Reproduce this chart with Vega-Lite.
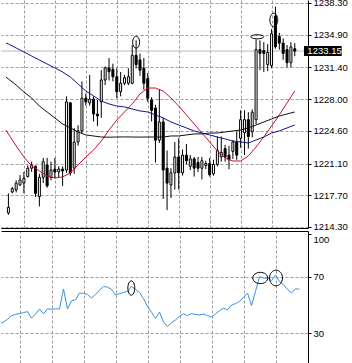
{
  "$schema": "https://vega.github.io/schema/vega-lite/v6.json",
  "padding": {"left": 0, "right": 0, "top": -3, "bottom": 0},
  "background": "white",
  "spacing": 3,
  "bounds": "flush",
  "config": {
    "view": {"stroke": null},
    "axis": {
      "labelFont": "Liberation Sans",
      "labelFontSize": 9.5,
      "labelColor": "black",
      "labelOverlap": false,
      "domainColor": "black",
      "domainWidth": 1,
      "tickColor": "black",
      "tickSize": 3,
      "labelPadding": 2,
      "gridColor": "#9c9c9c",
      "gridDash": [3, 2],
      "gridWidth": 1
    }
  },
  "datasets": {
    "last": [{"price": 1233.15}],
    "candles": [
      {"i": 0, "open": 1215.8, "high": 1217.9, "low": 1215.6, "close": 1216.4},
      {"i": 1, "open": 1218.05, "high": 1218.6, "low": 1217.9, "close": 1218.4},
      {"i": 2, "open": 1218.26, "high": 1219.3, "low": 1218.0, "close": 1219.0},
      {"i": 3, "open": 1218.8, "high": 1219.87, "low": 1218.7, "close": 1219.33},
      {"i": 4, "open": 1219.0, "high": 1220.2, "low": 1217.9, "close": 1219.5},
      {"i": 5, "open": 1219.7, "high": 1220.9, "low": 1219.6, "close": 1220.6},
      {"i": 6, "open": 1220.6, "high": 1221.3, "low": 1220.2, "close": 1220.9},
      {"i": 7, "open": 1220.8, "high": 1220.9, "low": 1217.5, "close": 1217.9},
      {"i": 8, "open": 1217.55, "high": 1220.0, "low": 1216.5, "close": 1219.62},
      {"i": 9, "open": 1219.62, "high": 1221.7, "low": 1219.0, "close": 1221.3},
      {"i": 10, "open": 1220.94, "high": 1221.7, "low": 1218.5, "close": 1218.7},
      {"i": 11, "open": 1219.6, "high": 1221.3, "low": 1219.3, "close": 1220.4},
      {"i": 12, "open": 1220.5, "high": 1221.7, "low": 1219.5, "close": 1220.2},
      {"i": 13, "open": 1220.2, "high": 1220.8, "low": 1219.6, "close": 1220.5},
      {"i": 14, "open": 1220.5, "high": 1220.8, "low": 1218.7, "close": 1220.3},
      {"i": 15, "open": 1220.4, "high": 1228.3, "low": 1220.1, "close": 1227.7},
      {"i": 16, "open": 1227.6, "high": 1227.7, "low": 1219.8, "close": 1220.1},
      {"i": 17, "open": 1220.6, "high": 1224.9, "low": 1220.0, "close": 1223.4},
      {"i": 18, "open": 1223.4, "high": 1225.2, "low": 1223.0, "close": 1224.6},
      {"i": 19, "open": 1224.6, "high": 1229.9, "low": 1224.3, "close": 1228.1},
      {"i": 20, "open": 1228.1, "high": 1228.6, "low": 1227.3, "close": 1227.7},
      {"i": 21, "open": 1227.6, "high": 1230.6, "low": 1227.3, "close": 1228.0},
      {"i": 22, "open": 1228.0, "high": 1228.3, "low": 1225.6, "close": 1226.4},
      {"i": 23, "open": 1226.4, "high": 1227.9, "low": 1225.1, "close": 1226.2},
      {"i": 24, "open": 1227.7, "high": 1231.1, "low": 1226.0, "close": 1230.05},
      {"i": 25, "open": 1230.05, "high": 1231.5, "low": 1229.5, "close": 1231.34},
      {"i": 26, "open": 1231.34, "high": 1232.4, "low": 1230.0, "close": 1230.94},
      {"i": 27, "open": 1231.2, "high": 1231.8, "low": 1229.9, "close": 1230.4},
      {"i": 28, "open": 1230.4, "high": 1231.3, "low": 1228.1, "close": 1228.8},
      {"i": 29, "open": 1228.8, "high": 1230.9, "low": 1228.3, "close": 1229.7},
      {"i": 30, "open": 1229.7, "high": 1230.6, "low": 1229.5, "close": 1230.3},
      {"i": 31, "open": 1229.7, "high": 1231.3, "low": 1229.5, "close": 1230.4},
      {"i": 32, "open": 1229.7, "high": 1233.8, "low": 1229.6, "close": 1232.7},
      {"i": 33, "open": 1232.7, "high": 1234.3, "low": 1231.3, "close": 1231.7},
      {"i": 34, "open": 1232.2, "high": 1232.9, "low": 1230.5, "close": 1231.1},
      {"i": 35, "open": 1231.3, "high": 1232.4, "low": 1229.0, "close": 1229.7},
      {"i": 36, "open": 1230.2, "high": 1230.8, "low": 1227.7, "close": 1228.1},
      {"i": 37, "open": 1227.9, "high": 1228.2, "low": 1225.6, "close": 1226.8},
      {"i": 38, "open": 1227.05, "high": 1227.4, "low": 1221.2, "close": 1223.6},
      {"i": 39, "open": 1223.6, "high": 1229.0, "low": 1223.3, "close": 1225.55},
      {"i": 40, "open": 1225.55, "high": 1226.0, "low": 1217.3, "close": 1220.4},
      {"i": 41, "open": 1220.6, "high": 1222.5, "low": 1216.1, "close": 1219.0},
      {"i": 42, "open": 1218.8, "high": 1220.6, "low": 1217.4, "close": 1220.1},
      {"i": 43, "open": 1220.1, "high": 1223.4, "low": 1218.3, "close": 1221.8},
      {"i": 44, "open": 1221.8, "high": 1223.8, "low": 1218.3, "close": 1220.1},
      {"i": 45, "open": 1220.1, "high": 1222.6, "low": 1219.8, "close": 1222.0},
      {"i": 46, "open": 1222.0, "high": 1223.2, "low": 1221.0, "close": 1221.4},
      {"i": 47, "open": 1220.8, "high": 1222.0, "low": 1220.4, "close": 1221.6},
      {"i": 48, "open": 1221.6, "high": 1221.8, "low": 1219.7, "close": 1220.6},
      {"i": 49, "open": 1221.2, "high": 1221.8, "low": 1220.2, "close": 1220.6},
      {"i": 50, "open": 1220.6, "high": 1221.8, "low": 1219.4, "close": 1221.4},
      {"i": 51, "open": 1220.9, "high": 1221.4, "low": 1220.5, "close": 1221.1},
      {"i": 52, "open": 1221.1, "high": 1221.7, "low": 1219.7, "close": 1219.9},
      {"i": 53, "open": 1220.0, "high": 1221.5, "low": 1219.8, "close": 1221.0},
      {"i": 54, "open": 1221.0, "high": 1224.0, "low": 1220.8, "close": 1222.5},
      {"i": 55, "open": 1221.8, "high": 1224.0, "low": 1221.3, "close": 1222.3},
      {"i": 56, "open": 1222.7, "high": 1223.1, "low": 1221.3, "close": 1221.8},
      {"i": 57, "open": 1222.0, "high": 1223.0, "low": 1220.5, "close": 1221.5},
      {"i": 58, "open": 1222.4, "high": 1223.6, "low": 1221.6, "close": 1223.4},
      {"i": 59, "open": 1223.4, "high": 1224.5, "low": 1221.5, "close": 1222.0},
      {"i": 60, "open": 1223.8, "high": 1226.8, "low": 1222.8, "close": 1225.8},
      {"i": 61, "open": 1224.4, "high": 1226.8, "low": 1222.0, "close": 1225.8},
      {"i": 62, "open": 1225.8, "high": 1226.6, "low": 1222.7, "close": 1224.0},
      {"i": 63, "open": 1224.5, "high": 1226.9, "low": 1223.9, "close": 1226.6},
      {"i": 64, "open": 1225.8, "high": 1234.4, "low": 1225.3, "close": 1233.3},
      {"i": 65, "open": 1233.3, "high": 1234.3, "low": 1231.1, "close": 1232.9},
      {"i": 66, "open": 1233.2, "high": 1234.1, "low": 1230.9, "close": 1232.9},
      {"i": 67, "open": 1231.7, "high": 1233.9, "low": 1231.0, "close": 1233.0},
      {"i": 68, "open": 1231.6, "high": 1235.5, "low": 1231.3, "close": 1235.0},
      {"i": 69, "open": 1236.9, "high": 1237.9, "low": 1233.4, "close": 1233.6},
      {"i": 70, "open": 1234.7, "high": 1235.1, "low": 1233.3, "close": 1234.0},
      {"i": 71, "open": 1234.0, "high": 1234.5, "low": 1232.2, "close": 1232.9},
      {"i": 72, "open": 1233.3, "high": 1233.8, "low": 1231.4, "close": 1231.9},
      {"i": 73, "open": 1231.9, "high": 1234.1, "low": 1231.4, "close": 1233.6},
      {"i": 74, "open": 1233.4, "high": 1234.0, "low": 1232.6, "close": 1233.15}
    ],
    "ma": [
      {"i": -0.625, "red": 1224.69, "blue": 1234.01, "black": 1230.37},
      {"i": 0, "red": 1224.26, "blue": 1233.91, "black": 1230.16},
      {"i": 2, "red": 1222.98, "blue": 1233.48, "black": 1229.51},
      {"i": 4, "red": 1221.8, "blue": 1233.05, "black": 1228.76},
      {"i": 6, "red": 1220.84, "blue": 1232.62, "black": 1228.12},
      {"i": 8, "red": 1220.3, "blue": 1232.19, "black": 1227.26},
      {"i": 10, "red": 1219.76, "blue": 1231.76, "black": 1226.62},
      {"i": 12, "red": 1219.55, "blue": 1231.34, "black": 1225.98},
      {"i": 14, "red": 1219.66, "blue": 1230.91, "black": 1225.34},
      {"i": 16, "red": 1220.09, "blue": 1230.37, "black": 1224.91},
      {"i": 18, "red": 1220.94, "blue": 1229.62, "black": 1224.48},
      {"i": 20, "red": 1221.8, "blue": 1228.87, "black": 1224.16},
      {"i": 22, "red": 1222.55, "blue": 1228.34, "black": 1224.05},
      {"i": 24, "red": 1223.51, "blue": 1227.8, "black": 1223.94},
      {"i": 26, "red": 1224.69, "blue": 1227.48, "black": 1223.92},
      {"i": 28, "red": 1225.76, "blue": 1227.26, "black": 1223.94},
      {"i": 30, "red": 1226.62, "blue": 1227.16, "black": 1223.95},
      {"i": 32, "red": 1227.48, "blue": 1226.94, "black": 1223.94},
      {"i": 34, "red": 1228.55, "blue": 1226.73, "black": 1223.93},
      {"i": 36, "red": 1229.19, "blue": 1226.62, "black": 1223.94},
      {"i": 38, "red": 1229.19, "blue": 1226.3, "black": 1223.94},
      {"i": 40, "red": 1228.87, "blue": 1225.98, "black": 1223.94},
      {"i": 42, "red": 1228.12, "blue": 1225.55, "black": 1224.05},
      {"i": 44, "red": 1227.26, "blue": 1225.23, "black": 1224.05},
      {"i": 46, "red": 1226.3, "blue": 1224.91, "black": 1224.16},
      {"i": 48, "red": 1225.34, "blue": 1224.59, "black": 1224.27},
      {"i": 50, "red": 1224.37, "blue": 1224.37, "black": 1224.27},
      {"i": 52, "red": 1223.41, "blue": 1224.16, "black": 1224.37},
      {"i": 54, "red": 1222.44, "blue": 1223.94, "black": 1224.37},
      {"i": 56, "red": 1221.69, "blue": 1223.73, "black": 1224.48},
      {"i": 58, "red": 1221.37, "blue": 1223.51, "black": 1224.59},
      {"i": 60, "red": 1221.37, "blue": 1223.41, "black": 1224.69},
      {"i": 62, "red": 1221.91, "blue": 1223.3, "black": 1224.91},
      {"i": 64, "red": 1222.87, "blue": 1223.62, "black": 1225.23},
      {"i": 66, "red": 1223.94, "blue": 1223.94, "black": 1225.55},
      {"i": 68, "red": 1225.12, "blue": 1224.37, "black": 1225.87},
      {"i": 70, "red": 1226.3, "blue": 1224.59, "black": 1226.19},
      {"i": 72, "red": 1227.59, "blue": 1224.91, "black": 1226.41},
      {"i": 74, "red": 1228.87, "blue": 1225.23, "black": 1226.62}
    ],
    "rsi": [
      {"i": -0.625, "rsi": 37.2},
      {"i": 0, "rsi": 37.9}, {"i": 1, "rsi": 40.0}, {"i": 2, "rsi": 42.5}, {"i": 3, "rsi": 43.4},
      {"i": 4, "rsi": 44.0}, {"i": 5, "rsi": 44.6}, {"i": 6, "rsi": 45.4}, {"i": 7, "rsi": 40.8},
      {"i": 8, "rsi": 43.5}, {"i": 9, "rsi": 47.2}, {"i": 10, "rsi": 43.8}, {"i": 11, "rsi": 47.3},
      {"i": 12, "rsi": 47.0}, {"i": 13, "rsi": 47.3}, {"i": 14, "rsi": 47.3}, {"i": 15, "rsi": 61.3},
      {"i": 16, "rsi": 47.3}, {"i": 17, "rsi": 53.0}, {"i": 18, "rsi": 53.7}, {"i": 19, "rsi": 58.5},
      {"i": 20, "rsi": 58.2}, {"i": 21, "rsi": 57.5}, {"i": 22, "rsi": 55.0}, {"i": 23, "rsi": 57.5},
      {"i": 24, "rsi": 60.5}, {"i": 25, "rsi": 63.1}, {"i": 26, "rsi": 62.6}, {"i": 27, "rsi": 61.0},
      {"i": 28, "rsi": 57.0}, {"i": 29, "rsi": 58.0}, {"i": 30, "rsi": 59.0}, {"i": 31, "rsi": 59.6},
      {"i": 32, "rsi": 63.1}, {"i": 33, "rsi": 61.0}, {"i": 34, "rsi": 59.0}, {"i": 35, "rsi": 54.5},
      {"i": 36, "rsi": 49.0}, {"i": 37, "rsi": 45.0}, {"i": 38, "rsi": 40.5}, {"i": 39, "rsi": 45.0},
      {"i": 40, "rsi": 38.0}, {"i": 41, "rsi": 34.8}, {"i": 42, "rsi": 37.5}, {"i": 43, "rsi": 39.5},
      {"i": 44, "rsi": 42.0}, {"i": 45, "rsi": 43.8}, {"i": 46, "rsi": 42.6}, {"i": 47, "rsi": 44.0},
      {"i": 48, "rsi": 43.3}, {"i": 49, "rsi": 43.0}, {"i": 50, "rsi": 43.6}, {"i": 51, "rsi": 42.5},
      {"i": 52, "rsi": 41.5}, {"i": 53, "rsi": 43.8}, {"i": 54, "rsi": 46.0}, {"i": 55, "rsi": 47.8},
      {"i": 56, "rsi": 46.6}, {"i": 57, "rsi": 50.0}, {"i": 58, "rsi": 51.0}, {"i": 59, "rsi": 52.5},
      {"i": 60, "rsi": 55.5}, {"i": 61, "rsi": 58.5}, {"i": 62, "rsi": 49.7}, {"i": 63, "rsi": 59.6},
      {"i": 64, "rsi": 70.0}, {"i": 65, "rsi": 69.1}, {"i": 66, "rsi": 69.1}, {"i": 67, "rsi": 67.2},
      {"i": 68, "rsi": 71.2}, {"i": 69, "rsi": 66.5}, {"i": 70, "rsi": 64.3}, {"i": 71, "rsi": 61.0},
      {"i": 72, "rsi": 58.5}, {"i": 73, "rsi": 61.5}, {"i": 74, "rsi": 61.1}
    ],
    "ell_up": [
      {"id": "a", "i": 33.0, "p": 1234.09},
      {"id": "b", "i": 64.33, "p": 1234.68},
      {"id": "c", "i": 68.58, "p": 1236.48}
    ],
    "ell_lo": [
      {"id": "d", "i": 31.95, "v": 62.0},
      {"id": "e", "i": 64.2, "v": 69.1},
      {"id": "f", "i": 68.13, "v": 69.1}
    ]
  },
  "vconcat": [
    {
      "width": 307,
      "height": 228,
      "layer": [
        {
          "data": {"name": "last"},
          "mark": {"type": "rule", "color": "#b8b8b8", "strokeWidth": 1},
          "encoding": {
            "y": {
              "field": "price", "type": "quantitative", "title": null,
              "scale": {"domain": [1214.19, 1238.62], "zero": false, "nice": false},
              "axis": {
                "orient": "right", "title": null, "format": ".2f", "tickCount": 40,
                "values": [1214.3, 1217.7, 1221.1, 1224.6, 1228.0, 1231.4, 1234.9, 1238.3],
                "grid": true, "domain": true, "ticks": true, "labelOverlap": false, "labelBound": false
              }
            }
          }
        },
        {
          "data": {"name": "candles"},
          "mark": {"type": "rule", "color": "black", "strokeWidth": 1},
          "encoding": {
            "x": {
              "field": "i", "type": "quantitative", "title": null,
              "scale": {"domain": [-0.625, 76.125], "zero": false, "nice": false},
              "axis": {
                "orient": "bottom", "title": null, "values": [4, 12, 20, 28, 36, 44, 52, 60, 68], "tickCount": 40,
                "grid": true, "labels": false, "ticks": false, "domain": true
              }
            },
            "y": {"field": "low", "type": "quantitative", "title": null},
            "y2": {"field": "high"}
          }
        },
        {
          "data": {"name": "candles"},
          "mark": {"type": "bar", "width": 2, "stroke": "black", "strokeWidth": 1},
          "encoding": {
            "x": {"field": "i", "type": "quantitative", "title": null},
            "y": {"field": "open", "type": "quantitative", "title": null},
            "y2": {"field": "close"},
            "fill": {"condition": {"test": "datum.close >= datum.open", "value": "white"}, "value": "black"}
          }
        },
        {
          "data": {"name": "ma"},
          "mark": {"type": "line", "color": "#c8102e", "strokeWidth": 1, "clip": true},
          "encoding": {
            "x": {"field": "i", "type": "quantitative", "title": null},
            "y": {"field": "red", "type": "quantitative", "title": null}
          }
        },
        {
          "data": {"name": "ma"},
          "mark": {"type": "line", "color": "#14148c", "strokeWidth": 1, "clip": true},
          "encoding": {
            "x": {"field": "i", "type": "quantitative", "title": null},
            "y": {"field": "blue", "type": "quantitative", "title": null}
          }
        },
        {
          "data": {"name": "ma"},
          "mark": {"type": "line", "color": "#111111", "strokeWidth": 1, "clip": true},
          "encoding": {
            "x": {"field": "i", "type": "quantitative", "title": null},
            "y": {"field": "black", "type": "quantitative", "title": null}
          }
        },
        {
          "data": {"name": "ell_up"},
          "mark": {"type": "point", "filled": false, "stroke": "black", "strokeWidth": 1, "opacity": 1},
          "encoding": {
            "x": {"field": "i", "type": "quantitative", "title": null},
            "y": {"field": "p", "type": "quantitative", "title": null},
            "shape": {
              "field": "id", "type": "nominal", "legend": null,
              "scale": {
                "domain": ["a", "b", "c", "d", "e", "f"],
                "range": [
                  "M 0.58 0 C 0.58 0.552 0.32 1 0 1 C -0.32 1 -0.58 0.552 -0.58 0 C -0.58 -0.552 -0.32 -1 0 -1 C 0.32 -1 0.58 -0.552 0.58 0 Z",
                  "M 1 0 C 1 0.177 0.552 0.32 0 0.32 C -0.552 0.32 -1 0.177 -1 0 C -1 -0.177 -0.552 -0.32 0 -0.32 C 0.552 -0.32 1 -0.177 1 0 Z",
                  "M 0.58 0 C 0.58 0.552 0.32 1 0 1 C -0.32 1 -0.58 0.552 -0.58 0 C -0.58 -0.552 -0.32 -1 0 -1 C 0.32 -1 0.58 -0.552 0.58 0 Z",
                  "M 0.48 0 C 0.48 0.552 0.265 1 0 1 C -0.265 1 -0.48 0.552 -0.48 0 C -0.48 -0.552 -0.265 -1 0 -1 C 0.265 -1 0.48 -0.552 0.48 0 Z",
                  "M 1 0 C 1 0.414 0.552 0.75 0 0.75 C -0.552 0.75 -1 0.414 -1 0 C -1 -0.414 -0.552 -0.75 0 -0.75 C 0.552 -0.75 1 -0.414 1 0 Z",
                  "M 0.83 0 C 0.83 0.552 0.458 1 0 1 C -0.458 1 -0.83 0.552 -0.83 0 C -0.83 -0.552 -0.458 -1 0 -1 C 0.458 -1 0.83 -0.552 0.83 0 Z"
                ]
              }
            },
            "size": {
              "field": "id", "type": "ordinal", "legend": null,
              "scale": {"domain": ["a", "b", "c", "d", "e", "f"], "range": [144, 246, 400, 234, 177, 144]}
            }
          }
        },
        {
          "data": {"name": "last"},
          "mark": {"type": "rect", "color": "black"},
          "encoding": {
            "x": {"datum": 76.375, "type": "quantitative"},
            "x2": {"datum": 86.125},
            "y": {"datum": 1233.69, "type": "quantitative"},
            "y2": {"datum": 1232.62}
          }
        },
        {
          "data": {"name": "last"},
          "mark": {"type": "text", "align": "left", "baseline": "middle", "color": "white", "font": "Liberation Sans", "fontSize": 9.5},
          "encoding": {
            "x": {"datum": 77.25, "type": "quantitative"},
            "y": {"field": "price", "type": "quantitative", "title": null},
            "text": {"field": "price", "type": "quantitative", "format": ".2f"}
          }
        }
      ]
    },
    {
      "width": 307,
      "height": 132,
      "layer": [
        {
          "data": {"name": "rsi"},
          "mark": {"type": "line", "color": "#3d8fd9", "strokeWidth": 1, "clip": true},
          "encoding": {
            "x": {
              "field": "i", "type": "quantitative", "title": null,
              "scale": {"domain": [-0.625, 76.125], "zero": false, "nice": false},
              "axis": {
                "orient": "top", "title": null, "values": [4, 12, 20, 28, 36, 44, 52, 60, 68], "tickCount": 40,
                "grid": true, "labels": false, "ticks": false, "domain": true
              }
            },
            "y": {
              "field": "rsi", "type": "quantitative", "title": null,
              "scale": {"domain": [9.08, 102.26], "zero": false, "nice": false},
              "axis": {
                "orient": "right", "title": null, "values": [30, 70, 100], "tickCount": 40,
                "grid": true, "domain": true, "ticks": true,
                "gridOpacity": {"condition": {"test": "datum.value == 100", "value": 0}, "value": 1},
                "labelBaseline": {"condition": {"test": "datum.value == 100", "value": "top"}, "value": "middle"}
              }
            }
          }
        },
        {
          "data": {"name": "ell_lo"},
          "mark": {"type": "point", "filled": false, "stroke": "black", "strokeWidth": 1, "opacity": 1},
          "encoding": {
            "x": {"field": "i", "type": "quantitative", "title": null},
            "y": {"field": "v", "type": "quantitative", "title": null},
            "shape": {
              "field": "id", "type": "nominal", "legend": null,
              "scale": {
                "domain": ["a", "b", "c", "d", "e", "f"],
                "range": [
                  "M 0.58 0 C 0.58 0.552 0.32 1 0 1 C -0.32 1 -0.58 0.552 -0.58 0 C -0.58 -0.552 -0.32 -1 0 -1 C 0.32 -1 0.58 -0.552 0.58 0 Z",
                  "M 1 0 C 1 0.177 0.552 0.32 0 0.32 C -0.552 0.32 -1 0.177 -1 0 C -1 -0.177 -0.552 -0.32 0 -0.32 C 0.552 -0.32 1 -0.177 1 0 Z",
                  "M 0.58 0 C 0.58 0.552 0.32 1 0 1 C -0.32 1 -0.58 0.552 -0.58 0 C -0.58 -0.552 -0.32 -1 0 -1 C 0.32 -1 0.58 -0.552 0.58 0 Z",
                  "M 0.48 0 C 0.48 0.552 0.265 1 0 1 C -0.265 1 -0.48 0.552 -0.48 0 C -0.48 -0.552 -0.265 -1 0 -1 C 0.265 -1 0.48 -0.552 0.48 0 Z",
                  "M 1 0 C 1 0.414 0.552 0.75 0 0.75 C -0.552 0.75 -1 0.414 -1 0 C -1 -0.414 -0.552 -0.75 0 -0.75 C 0.552 -0.75 1 -0.414 1 0 Z",
                  "M 0.83 0 C 0.83 0.552 0.458 1 0 1 C -0.458 1 -0.83 0.552 -0.83 0 C -0.83 -0.552 -0.458 -1 0 -1 C 0.458 -1 0.83 -0.552 0.83 0 Z"
                ]
              }
            },
            "size": {
              "field": "id", "type": "ordinal", "legend": null,
              "scale": {"domain": ["a", "b", "c", "d", "e", "f"], "range": [144, 246, 400, 234, 177, 144]}
            }
          }
        }
      ]
    }
  ]
}
